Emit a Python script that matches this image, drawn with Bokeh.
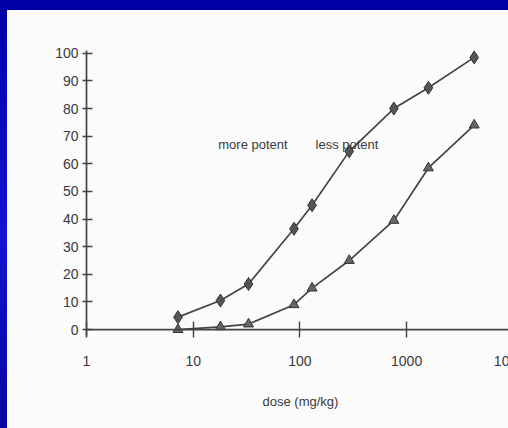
import math
from bokeh.plotting import figure
from bokeh.models import Range1d, FixedTicker, Label, Span
from bokeh.embed import file_html
from bokeh.resources import INLINE

# ---- data ----
dose = [7.2, 18, 33, 88, 130, 290, 760, 1600, 4300]
more_potent = [4.5, 10.5, 16.5, 36.5, 45, 64.5, 80, 87.5, 98.5]
less_potent = [0, 1, 2, 9, 15, 25, 39.5, 58.5, 74]
x_ticks = [1, 10, 100, 1000, 10000]
x_tick_labels = ["1", "10", "100", "1000", "10000"]
y_ticks = [0, 10, 20, 30, 40, 50, 60, 70, 80, 90, 100]

FONT = "Liberation Sans"
INK = "#3a3a3a"
PAPER = "#fbfbfb"

# the original picture is cropped on the right: the axis runs just past 10000,
# so the "10000" label is cut by the window edge
p = figure(width=540, height=428, output_backend="svg", toolbar_location=None,
           x_axis_type="log", x_range=Range1d(1, 10260), y_range=Range1d(-2.5, 101),
           min_border_left=86, min_border_right=26, min_border_top=50, min_border_bottom=92,
           background_fill_color=None, border_fill_color=None,
           outline_line_color=None)
p.styles = {
    "position": "fixed", "left": "0px", "top": "0px",
    "background": ("linear-gradient(#0000a8, #0000a8) left top / 100% 10px no-repeat, "
                   "linear-gradient(#0000a8, #1414d2 55%, #0606a0) left top / 7px 100% no-repeat, "
                   + PAPER),
}
p.grid.visible = False

# x axis line drawn at y = 0
p.add_layout(Span(location=y_ticks[0], dimension="width", line_color="#444444",
                  line_width=1.7))

# lines + markers
p.line(dose, more_potent, line_color="#454545", line_width=1.7)
p.line(dose, less_potent, line_color="#454545", line_width=1.7)
p.scatter(dose, more_potent, marker="diamond", size=13, fill_color="#555555",
          line_color="#333333", line_width=1)
p.scatter(dose, less_potent, marker="triangle", size=10, fill_color="#666666",
          line_color="#333333", line_width=1)

# x axis (ticks reach up across the y = 0 line)
xa = p.xaxis[0]
xa.ticker = FixedTicker(ticks=x_ticks, minor_ticks=[])
xa.major_label_overrides = {t: l for t, l in zip(x_ticks, x_tick_labels)}
xa.axis_line_color = None
xa.major_tick_in = 15
xa.major_tick_out = 1
xa.minor_tick_in = 0
xa.minor_tick_out = 0
xa.major_label_standoff = 18
xa.axis_label = "dose (mg/kg)"
xa.axis_label_standoff = 25
xa.axis_label_text_font = FONT
xa.axis_label_text_font_size = "13px"
xa.axis_label_text_font_style = "normal"
xa.axis_label_text_color = INK

# y axis
ya = p.yaxis[0]
ya.ticker = FixedTicker(ticks=y_ticks, minor_ticks=[])
ya.axis_line_color = "#444444"
ya.axis_line_width = 1.7
ya.major_tick_in = 6
ya.major_tick_out = 4
ya.minor_tick_in = 0
ya.minor_tick_out = 0
ya.major_label_standoff = 4

for ax in (xa, ya):
    ax.major_tick_line_color = "#444444"
    ax.major_tick_line_width = 1.4
    ax.major_label_text_font = FONT
    ax.major_label_text_font_size = "14px"
    ax.major_label_text_color = INK

# y axis title
p.add_layout(Label(x=0.318, y=62.3, text="% mortality", angle=math.pi / 2,
                   text_align="center", text_baseline="middle", text_font=FONT,
                   text_font_size="13px", text_color="#6a6a6a"))

# annotations
p.add_layout(Label(x=36.3, y=67, text="more potent", text_align="center",
                   text_baseline="alphabetic", text_font=FONT,
                   text_font_size="13px", text_color=INK))
p.add_layout(Label(x=276, y=67, text="less potent", text_align="center",
                   text_baseline="alphabetic", text_font=FONT,
                   text_font_size="13px", text_color=INK))

open("out.html", "w").write(file_html(p, INLINE))
